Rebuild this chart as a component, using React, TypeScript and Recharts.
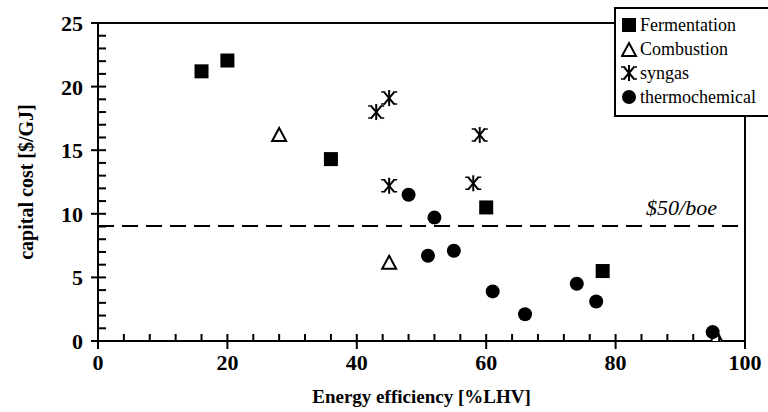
import { ScatterChart, Scatter, XAxis, YAxis, ReferenceLine, ReferenceArea } from 'recharts';

const fermentationX = [16, 20, 36, 60, 78];
const fermentationY = [21.2, 22.05, 14.3, 10.5, 5.5];
const combustionX = [28, 45, 95.6];
const combustionY = [16.2, 6.15, 0.25];
const syngasX = [43, 45, 45, 58, 59];
const syngasY = [18.0, 19.1, 12.2, 12.4, 16.2];
const thermoX = [48, 52, 51, 55, 61, 66, 74, 77, 95];
const thermoY = [11.5, 9.7, 6.7, 7.1, 3.9, 2.1, 4.5, 3.1, 0.7];
const boeCost = 9.05;

const xTicks = Array.from({ length: 26 }, (_, i) => i * 4);
const yTicks = Array.from({ length: 26 }, (_, i) => i);
const legendNames = ['Fermentation', 'Combustion', 'syngas', 'thermochemical'];

const toPoints = (xs: number[], ys: number[]) => xs.map((x, i) => ({ x, y: ys[i] }));

const SERIF = "'Liberation Serif', 'DejaVu Serif', serif";

const Square = ({ cx, cy }: any) => <rect x={cx - 7} y={cy - 7} width={14} height={14} fill="#000" />;
const Dot = ({ cx, cy }: any) => <circle cx={cx} cy={cy} r={7} fill="#000" />;
const Triangle = ({ cx, cy }: any) => (
  <polygon
    points={`${cx},${cy - 7} ${cx + 7},${cy + 6} ${cx - 7},${cy + 6}`}
    fill="#fff"
    stroke="#000"
    strokeWidth={2}
  />
);
const Star = ({ cx, cy }: any) => (
  <g stroke="#000" strokeWidth={2} fill="none">
    <line x1={cx} y1={cy - 8} x2={cx} y2={cy + 8} />
    <line x1={cx - 5} y1={cy - 6} x2={cx + 5} y2={cy + 6} />
    <line x1={cx - 5} y1={cy + 6} x2={cx + 5} y2={cy - 6} />
    <path d={`M${cx - 8},${cy - 6} H${cx - 4} M${cx + 4},${cy - 6} H${cx + 8} M${cx - 8},${cy + 6} H${cx - 4} M${cx + 4},${cy + 6} H${cx + 8}`} strokeWidth={1.5} />
  </g>
);

function XTickMark(props: any) {
  const x = Number(props.x);
  const y = Number(props.y);
  const v = props.payload.value;
  const major = v % 20 === 0;
  return (
    <g>
      <path d={`M${x},${y - 7}V${major ? y + 8 : y}`} stroke="#000" strokeWidth={2} fill="none" />
      {major && (
        <text x={x} y={y + 29} textAnchor="middle" fontFamily={SERIF} fontWeight="bold" fontSize={22} fill="#000">
          {v}
        </text>
      )}
    </g>
  );
}

function YTickMark(props: any) {
  const x = Number(props.x);
  const y = Number(props.y);
  const v = props.payload.value;
  const major = v % 5 === 0;
  return (
    <g>
      <path d={`M${major ? x - 7 : x},${y}H${x + 8}`} stroke="#000" strokeWidth={2} fill="none" />
      {major && (
        <text x={x - 15} y={y + 8} textAnchor="end" fontFamily={SERIF} fontWeight="bold" fontSize={22} fill="#000">
          {v}
        </text>
      )}
    </g>
  );
}

const legendIcon = (name: string) => {
  if (name === 'Fermentation') return <Square cx={8} cy={9} />;
  if (name === 'Combustion') return <Triangle cx={8} cy={10} />;
  if (name === 'syngas') return <Star cx={8} cy={9} />;
  return <Dot cx={8} cy={9} />;
};

const BoeLabel = ({ viewBox }: any) => (
  <text x={viewBox.x + viewBox.width - 28} y={viewBox.y - 11} textAnchor="end" fontFamily={SERIF} fontStyle="italic" fontSize={22} fill="#000">
    $50/boe
  </text>
);

export default function App() {
  return (
    <div style={{ position: 'absolute', left: 0, top: 0, width: 768, height: 412, background: '#fff', overflow: 'hidden' }}>
      <ScatterChart width={768} height={412} margin={{ top: 23, right: 23, bottom: 0, left: 0 }}>
        <ReferenceArea x1={0} x2={100} y1={0} y2={25} fill="none" stroke="#000" strokeWidth={2} fillOpacity={0} />
        <XAxis
          type="number"
          dataKey="x"
          domain={[0, 100]}
          ticks={xTicks}
          interval={0}
          height={71}
          tickSize={0}
          tickMargin={0}
          tickLine={false}
          tick={<XTickMark />}
          axisLine={{ stroke: '#000', strokeWidth: 2 }}
          allowDataOverflow
          label={{ value: 'Energy efficiency [%LHV]', position: 'insideBottom', offset: 9, style: { fontFamily: SERIF, fontWeight: 'bold', fontSize: 19, fill: '#000' } }}
        />
        <YAxis
          type="number"
          dataKey="y"
          domain={[0, 25]}
          ticks={yTicks}
          interval={0}
          width={98}
          tickSize={0}
          tickMargin={0}
          tickLine={false}
          tick={<YTickMark />}
          axisLine={{ stroke: '#000', strokeWidth: 2 }}
          allowDataOverflow
          label={{ value: 'capital cost [$/GJ]', angle: -90, position: 'insideLeft', offset: 26, style: { textAnchor: 'middle', fontFamily: SERIF, fontWeight: 'bold', fontSize: 20, fill: '#000' } }}
        />
        <ReferenceLine y={boeCost} stroke="#000" strokeWidth={2} strokeDasharray="16 8" label={<BoeLabel />} />
        <Scatter name="Fermentation" data={toPoints(fermentationX, fermentationY)} shape={<Square />} isAnimationActive={false} />
        <Scatter name="Combustion" data={toPoints(combustionX, combustionY)} shape={<Triangle />} isAnimationActive={false} />
        <Scatter name="syngas" data={toPoints(syngasX, syngasY)} shape={<Star />} isAnimationActive={false} />
        <Scatter name="thermochemical" data={toPoints(thermoX, thermoY)} shape={<Dot />} isAnimationActive={false} />
      </ScatterChart>
      <div style={{ position: 'absolute', left: 614, top: 7, border: '2px solid #000', borderRight: 'none', background: '#fff', padding: '4px 0 6px 5px', width: 160 }}>
        {legendNames.map((n) => (
          <div key={n} style={{ display: 'flex', alignItems: 'center', height: 24, fontFamily: SERIF, fontSize: 18, color: '#000', whiteSpace: 'nowrap' }}>
            <svg width={17} height={18} style={{ marginRight: 2, flex: 'none' }}>{legendIcon(n)}</svg>
            {n}
          </div>
        ))}
      </div>
    </div>
  );
}
